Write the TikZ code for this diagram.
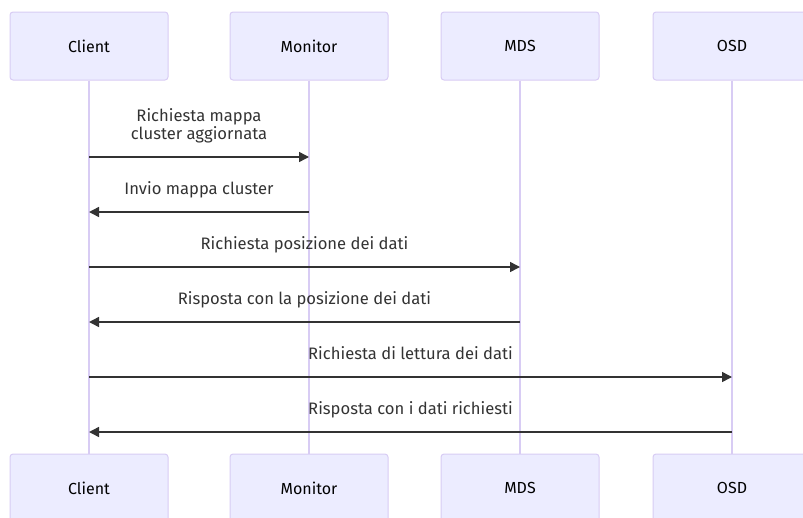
\documentclass[tikz,border=0pt]{standalone}
\usepackage{fontspec}
\setmainfont{Fira Sans}
\usetikzlibrary{arrows.meta, positioning}
\definecolor{actorfill}{HTML}{ECECFF}
\definecolor{actorline}{HTML}{D8CCF4}
\definecolor{msgcol}{HTML}{333333}

\begin{document}
\begin{tikzpicture}[x=1pt, y=-1pt,
    actor/.style={draw=actorline, fill=actorfill, line width=1pt, rounded corners=3pt,
      minimum width=158pt, minimum height=68pt, font=\fontsize{16}{19}\selectfont},
    lifeline/.style={draw=actorline, line width=1.6pt},
    msg/.style={draw=msgcol, line width=1.5pt, -{Triangle[length=10pt,width=10pt]}},
    txt/.style={font=\fontsize{16.6}{18}\selectfont, text=msgcol, align=center,
      inner sep=0pt, text depth=4pt, above=13pt}]
    \useasboundingbox (0,0) rectangle (803,517);

    % Partecipanti (in alto)
    \node[actor] (client) at (89,46) {Client};
    \node[actor] (monitor) at (309,46) {Monitor};
    \node[actor] (mds) at (520,46) {MDS};
    \node[actor] (osd) at (732,46) {OSD};

    % Partecipanti (in basso)
    \node[actor] (client-b) at (89,488) {Client};
    \node[actor] (monitor-b) at (309,488) {Monitor};
    \node[actor] (mds-b) at (520,488) {MDS};
    \node[actor] (osd-b) at (732,488) {OSD};

    % Linee di vita
    \foreach \p in {client, monitor, mds, osd}
        \draw[lifeline] (\p.south) -- (\p-b.north);

    % Messaggi
    \draw[msg] (client |- 0,157) -- (monitor |- 0,157)
        node[txt, midway] (m1) {Richiesta mappa\\cluster aggiornata};
    \draw[msg] (monitor |- 0,212) -- (client |- 0,212)
        node[txt, midway] (m2) {Invio mappa cluster};
    \draw[msg] (client |- 0,267) -- (mds |- 0,267)
        node[txt, midway] (m3) {Richiesta posizione dei dati};
    \draw[msg] (mds |- 0,322) -- (client |- 0,322)
        node[txt, midway] (m4) {Risposta con la posizione dei dati};
    \draw[msg] (client |- 0,377) -- (osd |- 0,377)
        node[txt, midway] (m5) {Richiesta di lettura dei dati};
    \draw[msg] (osd |- 0,432) -- (client |- 0,432)
        node[txt, midway] (m6) {Risposta con i dati richiesti};
\end{tikzpicture}
\end{document}
